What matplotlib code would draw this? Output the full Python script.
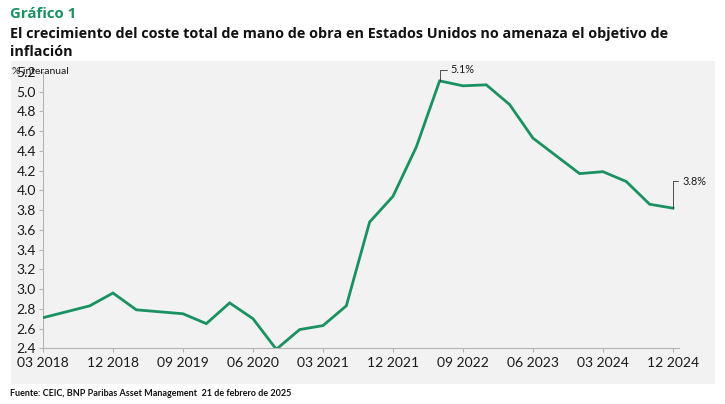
import matplotlib
matplotlib.use('Agg')
import numpy as np
from matplotlib import pyplot as plt

# quarterly growth of the US employment cost index, % yoy
quarters = ['03 2018', '06 2018', '09 2018', '12 2018',
            '03 2019', '06 2019', '09 2019', '12 2019',
            '03 2020', '06 2020', '09 2020', '12 2020',
            '03 2021', '06 2021', '09 2021', '12 2021',
            '03 2022', '06 2022', '09 2022', '12 2022',
            '03 2023', '06 2023', '09 2023', '12 2023',
            '03 2024', '06 2024', '09 2024', '12 2024']
eci = [2.71, 2.77, 2.83, 2.96,
       2.79, 2.77, 2.75, 2.65,
       2.86, 2.70, 2.39, 2.59,
       2.63, 2.83, 3.68, 3.94,
       4.44, 5.11, 5.06, 5.07,
       4.87, 4.53, 4.35, 4.17,
       4.19, 4.09, 3.86, 3.82]
yticks = [2.4, 2.6, 2.8, 3.0, 3.2, 3.4, 3.6, 3.8, 4.0, 4.2, 4.4, 4.6, 4.8, 5.0, 5.2]
tick_every = 3
peak_label = '5.1%'
last_label = '3.8%'

GREEN = '#1a9160'
plt.rcParams['font.family'] = ['Lato', 'DejaVu Sans']

fig = plt.figure(figsize=(7.25, 4.04), dpi=100)

# grey panel behind the chart
bg = fig.add_axes([11 / 725, 1 - 384 / 404, 704 / 725, 323 / 404], zorder=0)
bg.set_facecolor('#f2f2f2')
bg.set_xticks([])
bg.set_yticks([])
for s in bg.spines.values():
    s.set_visible(False)

ax = fig.add_axes([43 / 725, 1 - 348.3 / 404, 636 / 725, 276.3 / 404], zorder=1)
ax.set_facecolor('none')
x = np.arange(len(eci))
ax.plot(x, eci, color=GREEN, lw=2.0, solid_joinstyle='miter', zorder=3)

ax.set_xlim(0, 27.26)
ax.set_ylim(2.4, 5.2)
ax.set_yticks(yticks)
ax.set_yticklabels(['%.1f' % v for v in yticks])
ax.set_xticks(x[::tick_every])
ax.set_xticklabels(quarters[::tick_every])
for s in ['top', 'right']:
    ax.spines[s].set_visible(False)
for s in ['left', 'bottom']:
    ax.spines[s].set_color('#b5b5b5')
    ax.spines[s].set_linewidth(0.8)
ax.tick_params(axis='both', colors='#b5b5b5', labelcolor='#1a1a1a',
               labelsize=10, length=3, width=0.8)
ax.tick_params(axis='x', pad=3)
ax.tick_params(axis='y', pad=2)

# leaders on the peak and the last point
i_peak = int(np.argmax(eci))
ax.annotate(peak_label, xy=(x[i_peak], eci[i_peak]), xytext=(8, 8),
            textcoords='offset points', ha='left', va='center', fontsize=7.8,
            color='#1a1a1a',
            arrowprops=dict(arrowstyle='-', color='#333333', lw=0.6,
                            shrinkA=1, shrinkB=0,
                            connectionstyle='angle,angleA=0,angleB=90,rad=0'))
ax.annotate(last_label, xy=(x[-1], eci[-1]), xytext=(7, 19.5),
            textcoords='offset points', ha='left', va='center', fontsize=7.8,
            color='#1a1a1a',
            arrowprops=dict(arrowstyle='-', color='#333333', lw=0.6,
                            shrinkA=1, shrinkB=0,
                            connectionstyle='angle,angleA=0,angleB=90,rad=0'))

fig.text(12 / 725, 1 - 72 / 404, '% interanual', fontsize=7.5, color='#1a1a1a',
         va='center', ha='left', zorder=5)

title_font = ['Open Sans', 'DejaVu Sans']
fig.text(10 / 725, 1 - 14 / 404, 'Gráfico 1', fontsize=10.8, fontweight='bold',
         color=GREEN, va='center', ha='left', family=title_font)
fig.text(10 / 725, 1 - 34 / 404,
         'El crecimiento del coste total de mano de obra en Estados Unidos no amenaza el objetivo de',
         fontsize=10.4, fontweight='bold', color='#111111', va='center', ha='left',
         family=title_font)
fig.text(10 / 725, 1 - 52 / 404, 'inflación', fontsize=10.4, fontweight='bold',
         color='#111111', va='center', ha='left', family=title_font)
fig.text(10 / 725, 1 - 393 / 404,
         'Fuente: CEIC, BNP Paribas Asset Management  21 de febrero de 2025',
         fontsize=6.5, fontweight='bold', color='#111111', va='center', ha='left')

fig.savefig('out.png', dpi=100)
